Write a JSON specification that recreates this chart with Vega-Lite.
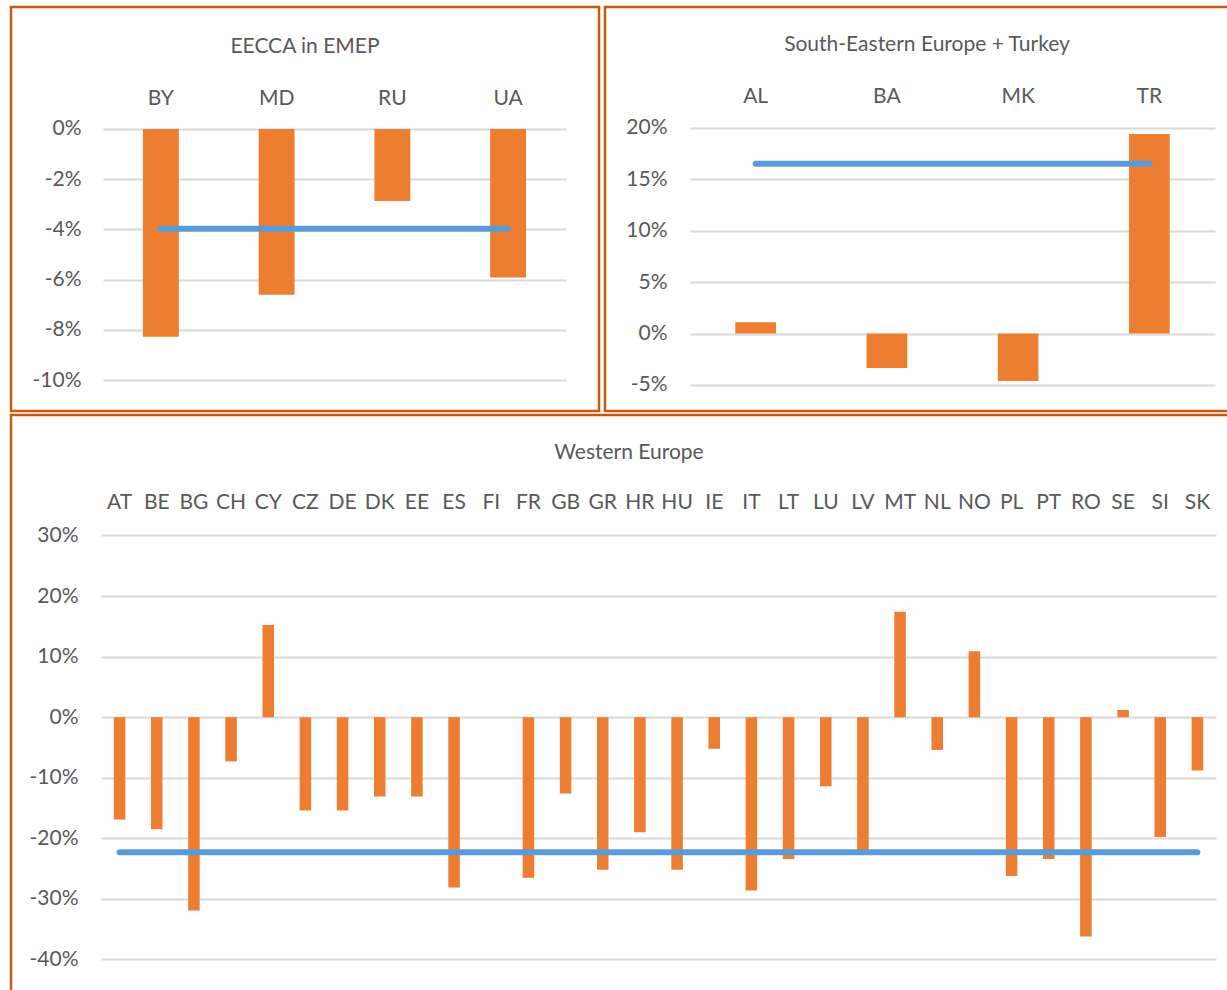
{
  "$schema": "https://vega.github.io/schema/vega-lite/v6.json",
  "padding": {"left": 9, "top": 5, "right": 0, "bottom": 0},
  "background": "white",
  "config": {
    "font": "Lato",
    "view": {"stroke": "#C55A11", "strokeWidth": 2.5},
    "axis": {"labelFont": "Lato", "labelFontSize": 21, "labelColor": "#595959", "domain": false, "ticks": false, "tickSize": 0, "title": null, "gridColor": "#D9D9D9", "gridWidth": 2, "labelOverlap": false},
    "title": {"font": "Lato", "fontSize": 21, "fontWeight": "normal", "color": "#595959"}
  },
  "datasets": {
    "eecca": [
      {"country": "BY", "value": -0.0828},
      {"country": "MD", "value": -0.066},
      {"country": "RU", "value": -0.0287},
      {"country": "UA", "value": -0.0592}
    ],
    "eecca_avg": [{"from": "BY", "to": "UA", "avg": -0.0397}],
    "see": [
      {"country": "AL", "value": 0.011},
      {"country": "BA", "value": -0.0335},
      {"country": "MK", "value": -0.046},
      {"country": "TR", "value": 0.194}
    ],
    "see_avg": [{"from": "AL", "to": "TR", "avg": 0.165}],
    "we": [
      {"country": "AT", "value": -0.169},
      {"country": "BE", "value": -0.185},
      {"country": "BG", "value": -0.319},
      {"country": "CH", "value": -0.073},
      {"country": "CY", "value": 0.152},
      {"country": "CZ", "value": -0.154},
      {"country": "DE", "value": -0.154},
      {"country": "DK", "value": -0.131},
      {"country": "EE", "value": -0.131},
      {"country": "ES", "value": -0.281},
      {"country": "FI", "value": 0.0},
      {"country": "FR", "value": -0.265},
      {"country": "GB", "value": -0.126},
      {"country": "GR", "value": -0.252},
      {"country": "HR", "value": -0.19},
      {"country": "HU", "value": -0.252},
      {"country": "IE", "value": -0.052},
      {"country": "IT", "value": -0.286},
      {"country": "LT", "value": -0.234},
      {"country": "LU", "value": -0.114},
      {"country": "LV", "value": -0.22},
      {"country": "MT", "value": 0.174},
      {"country": "NL", "value": -0.054},
      {"country": "NO", "value": 0.109},
      {"country": "PL", "value": -0.262},
      {"country": "PT", "value": -0.234},
      {"country": "RO", "value": -0.362},
      {"country": "SE", "value": 0.012},
      {"country": "SI", "value": -0.198},
      {"country": "SK", "value": -0.088}
    ],
    "we_avg": [{"from": "AT", "to": "SK", "avg": -0.223}]
  },
  "spacing": 0,
  "vconcat": [
    {
      "spacing": 2,
      "hconcat": [
        {
          "width": 588,
          "height": 404,
          "title": {"text": "EECCA in EMEP", "frame": "group", "offset": -61, "baseline": "middle"},
          "layer": [
            {
              "data": {"name": "eecca"},
              "mark": {"type": "bar", "color": "#ED7D31"},
              "encoding": {
                "x": {"field": "country", "type": "nominal", "scale": {"range": [92, 555], "paddingInner": 0.69, "paddingOuter": 0.345}, "axis": {"orient": "top", "offset": -91, "labelPadding": 0, "labelBaseline": "middle", "labelAngle": 0}},
                "y": {"field": "value", "type": "quantitative", "scale": {"domain": [-0.11235, 0.0486], "nice": false, "zero": false}, "axis": {"values": [0, -0.02, -0.04, -0.06, -0.08, -0.1], "labelExpr": "(datum.value < 0 ? '-' : '') + format(abs(datum.value), '.0%')", "offset": -75, "labelPadding": 5, "grid": true}},
                "y2": {"datum": 0}
              }
            },
            {
              "data": {"name": "eecca_avg"},
              "mark": {"type": "rule", "color": "#5B9BD5", "strokeWidth": 6, "strokeCap": "round"},
              "encoding": {
                "x": {"field": "from", "type": "nominal"},
                "x2": {"field": "to"},
                "y": {"field": "avg", "type": "quantitative"}
              }
            }
          ]
        },
        {
          "width": 628,
          "height": 404,
          "title": {"text": "South-Eastern Europe + Turkey", "frame": "group", "offset": -59, "baseline": "middle", "dx": 8},
          "layer": [
            {
              "data": {"name": "see"},
              "mark": {"type": "bar", "color": "#ED7D31"},
              "encoding": {
                "x": {"field": "country", "type": "nominal", "scale": {"range": [85, 610], "paddingInner": 0.69, "paddingOuter": 0.345}, "axis": {"orient": "top", "offset": -89, "labelPadding": 0, "labelBaseline": "middle", "labelAngle": 0}},
                "y": {"field": "value", "type": "quantitative", "scale": {"domain": [-0.07527, 0.3173], "nice": false, "zero": false}, "axis": {"values": [0.2, 0.15, 0.1, 0.05, 0, -0.05], "labelExpr": "(datum.value < 0 ? '-' : '') + format(abs(datum.value), '.0%')", "offset": -67, "labelPadding": 5, "grid": true}},
                "y2": {"datum": 0}
              }
            },
            {
              "data": {"name": "see_avg"},
              "mark": {"type": "rule", "color": "#5B9BD5", "strokeWidth": 6, "strokeCap": "round"},
              "encoding": {
                "x": {"field": "from", "type": "nominal"},
                "x2": {"field": "to"},
                "y": {"field": "avg", "type": "quantitative"}
              }
            }
          ]
        }
      ]
    },
    {
      "width": 1220,
      "height": 581,
      "title": {"text": "Western Europe", "frame": "group", "offset": -59, "baseline": "middle", "dx": 8},
      "layer": [
        {
          "data": {"name": "we"},
          "mark": {"type": "bar", "color": "#ED7D31"},
          "encoding": {
            "x": {"field": "country", "type": "nominal", "scale": {"range": [90, 1205], "paddingInner": 0.69, "paddingOuter": 0.345}, "axis": {"orient": "top", "offset": -87, "labelPadding": 0, "labelBaseline": "middle", "labelAngle": 0}},
            "y": {"field": "value", "type": "quantitative", "scale": {"domain": [-0.4603, 0.4989], "nice": false, "zero": false}, "axis": {"values": [0.3, 0.2, 0.1, 0, -0.1, -0.2, -0.3, -0.4], "labelExpr": "(datum.value < 0 ? '-' : '') + format(abs(datum.value), '.0%')", "offset": -72, "labelPadding": 5, "grid": true}},
            "y2": {"datum": 0}
          }
        },
        {
          "data": {"name": "we_avg"},
          "mark": {"type": "rule", "color": "#5B9BD5", "strokeWidth": 6, "strokeCap": "round"},
          "encoding": {
            "x": {"field": "from", "type": "nominal"},
            "x2": {"field": "to"},
            "y": {"field": "avg", "type": "quantitative"}
          }
        }
      ]
    }
  ]
}
